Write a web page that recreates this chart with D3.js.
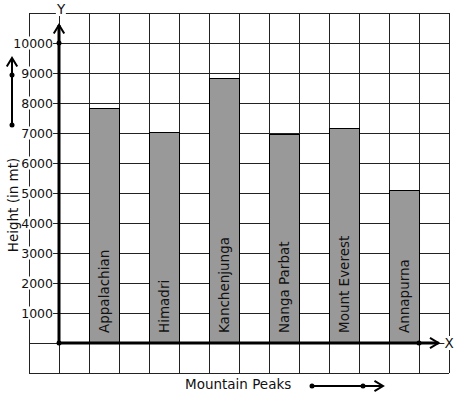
<!DOCTYPE html>
<html>
<head>
<meta charset="utf-8">
<script src="https://cdn.jsdelivr.net/npm/d3@7"></script>
<style>
  body { margin: 0; background: #fff; }
  text { font-family: "DejaVu Sans", sans-serif; fill: #111; }
</style>
</head>
<body>
<div id="chart"></div>
<script>

// data
const peaks = ["Appalachian", "Himadri", "Kanchenjunga", "Nanga Parbat", "Mount Everest", "Annapurna"];
const heights = [7820, 7020, 8820, 6960, 7160, 5090];
const yTicks = [1000, 2000, 3000, 4000, 5000, 6000, 7000, 8000, 9000, 10000];

const width = 457, height = 399;

const svg = d3.select("#chart")
    .append("svg")
    .attr("width", width)
    .attr("height", height);

// one grid cell = 1 unit on x, 1000 on y
const x = d3.scaleLinear().domain([-1, 13]).range([29, 449]);
const y = d3.scaleLinear().domain([-1000, 11000]).range([373, 13]);

const grid = svg.append("g")
    .attr("stroke", "#222")
    .attr("stroke-width", 1)
    .attr("shape-rendering", "crispEdges");

grid.selectAll(".v")
    .data(d3.range(-1, 14))
    .join("line")
    .attr("x1", d => x(d)).attr("x2", d => x(d))
    .attr("y1", y(11000)).attr("y2", y(-1000));

grid.selectAll(".h")
    .data(d3.range(-1000, 12000, 1000))
    .join("line")
    .attr("y1", d => y(d)).attr("y2", d => y(d))
    .attr("x1", x(-1)).attr("x2", x(13));

// bars
svg.append("g")
    .selectAll("rect")
    .data(peaks)
    .join("rect")
    .attr("x", (d, i) => x(2 * i + 1))
    .attr("width", x(1) - x(0))
    .attr("y", (d, i) => y(heights[i]))
    .attr("height", (d, i) => y(0) - y(heights[i]))
    .attr("fill", "#999")
    .attr("stroke", "#000")
    .attr("stroke-width", 1)
    .attr("shape-rendering", "crispEdges");

svg.append("g")
    .selectAll("text")
    .data(peaks)
    .join("text")
    .attr("transform", (d, i) => `translate(${x(2 * i + 1.5)},${y(0) - 10}) rotate(-90)`)
    .attr("dominant-baseline", "central")
    .style("font-size", "13.5px")
    .text(d => d);

// text with a white box behind it, so the grid breaks around it
const boxedText = (g, tx, ty, str, anchor, size) => {
    const t = g.append("text")
        .attr("x", tx).attr("y", ty)
        .attr("text-anchor", anchor)
        .attr("dominant-baseline", "central")
        .style("font-size", size)
        .text(str);
    const b = t.node().getBBox();
    g.insert("rect", "text")
        .attr("x", b.x).attr("y", b.y + 1)
        .attr("width", b.width).attr("height", b.height - 2)
        .attr("fill", "#fff");
};

const labels = svg.append("g");
yTicks.forEach(v => boxedText(labels, x(0) - 6, y(v), v, "end", "12.5px"));
boxedText(labels, x(0) + 2, y(11000) - 4, "Y", "middle", "13.5px");
boxedText(labels, x(13), y(0), "X", "middle", "13.5px");

// axes with open arrowheads
const arrow = (g, x1, y1, x2, y2, w) => {
    const ang = Math.atan2(y2 - y1, x2 - x1);
    const len = 10, spread = 0.55;
    g.append("line")
        .attr("x1", x1).attr("y1", y1).attr("x2", x2).attr("y2", y2)
        .attr("stroke", "#000").attr("stroke-width", w);
    g.append("path")
        .attr("d", d3.line()([
            [x2 - len * Math.cos(ang - spread), y2 - len * Math.sin(ang - spread)],
            [x2, y2],
            [x2 - len * Math.cos(ang + spread), y2 - len * Math.sin(ang + spread)]
        ]))
        .attr("fill", "none")
        .attr("stroke", "#000")
        .attr("stroke-width", 2);
};

const dot = (g, cx, cy) => g.append("circle").attr("cx", cx).attr("cy", cy).attr("r", 2.5).attr("fill", "#000");

const axes = svg.append("g");
arrow(axes, x(0), y(0), x(0), y(10600), 3);
arrow(axes, x(0), y(0), x(12.65), y(0), 3);
dot(axes, x(0), y(0));
dot(axes, x(0), y(10000));
dot(axes, x(12), y(0));

// axis titles
svg.append("text")
    .attr("transform", `translate(13,${y(5000) + 12}) rotate(-90)`)
    .attr("text-anchor", "middle")
    .attr("dominant-baseline", "central")
    .style("font-size", "13.5px")
    .text("Height (in mt)");

svg.append("text")
    .attr("x", 185)
    .attr("y", 389)
    .style("font-size", "13.5px")
    .text("Mountain Peaks");

// little direction arrows beside the titles
const deco = svg.append("g");
arrow(deco, 12, 125, 12, 58, 2);
dot(deco, 12, 125);
dot(deco, 12, 75);
arrow(deco, 312, 386, 383, 386, 2);
dot(deco, 312, 386);
dot(deco, 363, 386);

</script>
</body>
</html>
